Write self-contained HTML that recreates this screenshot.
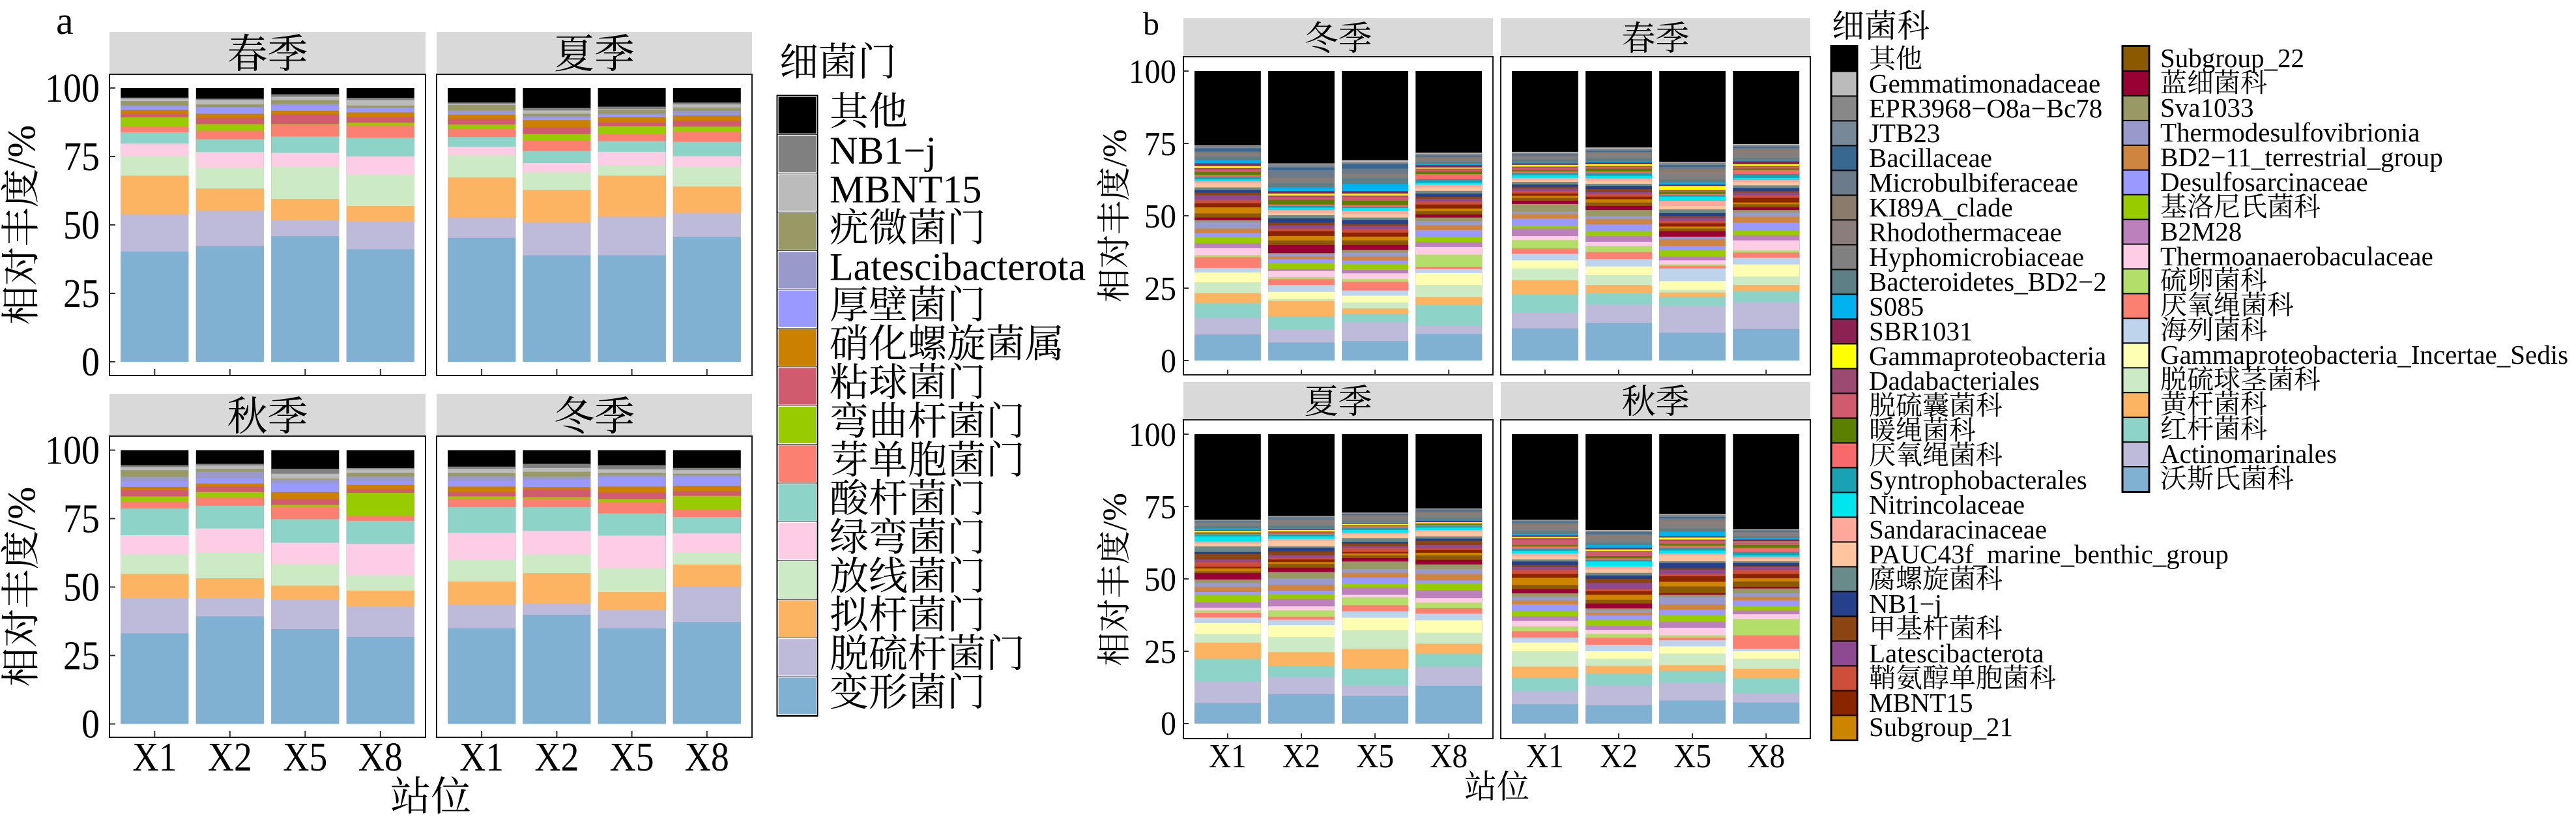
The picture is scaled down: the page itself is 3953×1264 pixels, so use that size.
<!DOCTYPE html>
<html><head><meta charset="utf-8"><style>
html,body{margin:0;padding:0;background:#fff}
svg{display:block}
text{font-family:"Liberation Serif","Noto Serif CJK SC",serif;fill:#000}
.p0{fill:#000}.p1{fill:#808080}.p2{fill:#bbbbbb}.p3{fill:#999966}.p4{fill:#9999cc}.p5{fill:#9999ff}.p6{fill:#cc8000}.p7{fill:#d05a6e}.p8{fill:#99cc00}.p9{fill:#fb8072}.p10{fill:#8dd3c7}.p11{fill:#fccde5}.p12{fill:#ccebc5}.p13{fill:#fdb462}.p14{fill:#bebada}.p15{fill:#80b1d3}
.q0{fill:#000}.q1{fill:#bbbbbb}.q2{fill:#888888}.q3{fill:#778899}.q4{fill:#386890}.q5{fill:#6c7b8b}.q6{fill:#8b7b6b}.q7{fill:#8b7d7b}.q8{fill:#808080}.q9{fill:#5f7f87}.q10{fill:#00b2ee}.q11{fill:#8b2252}.q12{fill:#ffff00}.q13{fill:#9c4a72}.q14{fill:#d05a6e}.q15{fill:#5b7f00}.q16{fill:#f8696b}.q17{fill:#1aa2b4}.q18{fill:#00e5ee}.q19{fill:#fda89a}.q20{fill:#ffc59e}.q21{fill:#698b89}.q22{fill:#27408b}.q23{fill:#8b4513}.q24{fill:#8e4a91}.q25{fill:#cd4f39}.q26{fill:#8b2500}.q27{fill:#cd8500}.q28{fill:#8b5a00}.q29{fill:#990033}.q30{fill:#999966}.q31{fill:#9999cc}.q32{fill:#cd853f}.q33{fill:#9999ff}.q34{fill:#99cc00}.q35{fill:#bc80bd}.q36{fill:#fccde5}.q37{fill:#b3de69}.q38{fill:#fb8072}.q39{fill:#bed3ec}.q40{fill:#ffffb3}.q41{fill:#ccebc5}.q42{fill:#fdb462}.q43{fill:#8dd3c7}.q44{fill:#bebada}.q45{fill:#80b1d3}
.strip{fill:#d9d9d9}
.frame{fill:none;stroke:#1a1a1a;stroke-width:2}
.tk{stroke:#333;stroke-width:2}
</style></head><body>
<svg width="3953" height="1264" viewBox="0 0 3953 1264" xmlns="http://www.w3.org/2000/svg">
<rect width="3953" height="1264" fill="#fff"/>

<!-- ================= PANEL A ================= -->
<text x="86" y="52" font-size="60">a</text>
<rect class="strip" x="168" y="49" width="485" height="65"/>
<rect class="strip" x="670" y="49" width="484" height="65"/>
<text x="410.5" y="104" font-size="62" text-anchor="middle">春季</text>
<text x="912" y="104" font-size="62" text-anchor="middle">夏季</text>
<rect class="strip" x="168" y="604" width="485" height="65"/>
<rect class="strip" x="670" y="604" width="484" height="65"/>
<text x="410.5" y="660" font-size="62" text-anchor="middle">秋季</text>
<text x="912" y="660" font-size="62" text-anchor="middle">冬季</text>

<!-- Spring -->
<g transform="translate(185.3,555) scale(104,-4.2)"><rect class="p0" width="1" height="100"/><rect class="p1" width="1" height="96.5"/><rect class="p2" width="1" height="96.1"/><rect class="p3" width="1" height="95.2"/><rect class="p4" width="1" height="93.6"/><rect class="p5" width="1" height="93.1"/><rect class="p6" width="1" height="92.0"/><rect class="p7" width="1" height="90.6"/><rect class="p8" width="1" height="89.3"/><rect class="p9" width="1" height="85.9"/><rect class="p10" width="1" height="83.8"/><rect class="p11" width="1" height="79.7"/><rect class="p12" width="1" height="75.0"/><rect class="p13" width="1" height="68.0"/><rect class="p14" width="1" height="53.9"/><rect class="p15" width="1" height="40.3"/></g>
<g transform="translate(300.8,555) scale(104,-4.2)"><rect class="p0" width="1" height="100"/><rect class="p1" width="1" height="96.1"/><rect class="p2" width="1" height="95.6"/><rect class="p3" width="1" height="94.0"/><rect class="p4" width="1" height="93.1"/><rect class="p5" width="1" height="92.7"/><rect class="p6" width="1" height="90.6"/><rect class="p7" width="1" height="89.1"/><rect class="p8" width="1" height="86.8"/><rect class="p9" width="1" height="84.4"/><rect class="p10" width="1" height="81.3"/><rect class="p11" width="1" height="76.6"/><rect class="p12" width="1" height="71.0"/><rect class="p13" width="1" height="63.3"/><rect class="p14" width="1" height="55.3"/><rect class="p15" width="1" height="42.3"/></g>
<g transform="translate(416.3,555) scale(104,-4.2)"><rect class="p0" width="1" height="100"/><rect class="p1" width="1" height="97.7"/><rect class="p2" width="1" height="96.8"/><rect class="p3" width="1" height="95.6"/><rect class="p4" width="1" height="94.2"/><rect class="p5" width="1" height="93.6"/><rect class="p6" width="1" height="91.7"/><rect class="p7" width="1" height="90.4"/><rect class="p8" width="1" height="86.8"/><rect class="p9" width="1" height="86.5"/><rect class="p10" width="1" height="82.3"/><rect class="p11" width="1" height="76.3"/><rect class="p12" width="1" height="71.4"/><rect class="p13" width="1" height="59.5"/><rect class="p14" width="1" height="51.8"/><rect class="p15" width="1" height="45.9"/></g>
<g transform="translate(531.8,555) scale(104,-4.2)"><rect class="p0" width="1" height="100"/><rect class="p1" width="1" height="96.4"/><rect class="p2" width="1" height="95.6"/><rect class="p3" width="1" height="93.6"/><rect class="p4" width="1" height="92.9"/><rect class="p5" width="1" height="92.7"/><rect class="p6" width="1" height="91.1"/><rect class="p7" width="1" height="89.4"/><rect class="p8" width="1" height="87.3"/><rect class="p9" width="1" height="86.3"/><rect class="p10" width="1" height="81.9"/><rect class="p11" width="1" height="75.0"/><rect class="p12" width="1" height="68.3"/><rect class="p13" width="1" height="56.9"/><rect class="p14" width="1" height="51.2"/><rect class="p15" width="1" height="41.1"/></g>
<!-- Summer -->
<g transform="translate(687.1,555) scale(104,-4.2)"><rect class="p0" width="1" height="100"/><rect class="p1" width="1" height="94.7"/><rect class="p2" width="1" height="94.2"/><rect class="p3" width="1" height="93.8"/><rect class="p4" width="1" height="91.8"/><rect class="p5" width="1" height="90.9"/><rect class="p6" width="1" height="90.3"/><rect class="p7" width="1" height="88.7"/><rect class="p8" width="1" height="86.7"/><rect class="p9" width="1" height="85.2"/><rect class="p10" width="1" height="82.1"/><rect class="p11" width="1" height="78.6"/><rect class="p12" width="1" height="75.4"/><rect class="p13" width="1" height="67.3"/><rect class="p14" width="1" height="52.8"/><rect class="p15" width="1" height="45.3"/></g>
<g transform="translate(802.4,555) scale(104,-4.2)"><rect class="p0" width="1" height="100"/><rect class="p1" width="1" height="92.7"/><rect class="p2" width="1" height="91.8"/><rect class="p3" width="1" height="90.6"/><rect class="p4" width="1" height="89.7"/><rect class="p5" width="1" height="89.1"/><rect class="p6" width="1" height="88.3"/><rect class="p7" width="1" height="85.6"/><rect class="p8" width="1" height="83.2"/><rect class="p9" width="1" height="80.8"/><rect class="p10" width="1" height="77.0"/><rect class="p11" width="1" height="72.6"/><rect class="p12" width="1" height="69.2"/><rect class="p13" width="1" height="62.8"/><rect class="p14" width="1" height="51.0"/><rect class="p15" width="1" height="38.9"/></g>
<g transform="translate(917.6,555) scale(104,-4.2)"><rect class="p0" width="1" height="100"/><rect class="p1" width="1" height="93.2"/><rect class="p2" width="1" height="92.3"/><rect class="p3" width="1" height="92.0"/><rect class="p4" width="1" height="90.6"/><rect class="p5" width="1" height="90.2"/><rect class="p6" width="1" height="89.3"/><rect class="p7" width="1" height="87.4"/><rect class="p8" width="1" height="86.1"/><rect class="p9" width="1" height="83.2"/><rect class="p10" width="1" height="80.6"/><rect class="p11" width="1" height="76.7"/><rect class="p12" width="1" height="71.9"/><rect class="p13" width="1" height="68.0"/><rect class="p14" width="1" height="53.0"/><rect class="p15" width="1" height="38.9"/></g>
<g transform="translate(1032.8,555) scale(104,-4.2)"><rect class="p0" width="1" height="100"/><rect class="p1" width="1" height="94.7"/><rect class="p2" width="1" height="94.0"/><rect class="p3" width="1" height="92.9"/><rect class="p4" width="1" height="91.7"/><rect class="p5" width="1" height="90.3"/><rect class="p6" width="1" height="90.0"/><rect class="p7" width="1" height="88.1"/><rect class="p8" width="1" height="85.9"/><rect class="p9" width="1" height="84.0"/><rect class="p10" width="1" height="80.4"/><rect class="p11" width="1" height="75.1"/><rect class="p12" width="1" height="71.2"/><rect class="p13" width="1" height="64.0"/><rect class="p14" width="1" height="54.4"/><rect class="p15" width="1" height="45.5"/></g>
<!-- Autumn -->
<g transform="translate(185.3,1110.5) scale(104,-4.2)"><rect class="p0" width="1" height="100"/><rect class="p1" width="1" height="94.5"/><rect class="p2" width="1" height="93.8"/><rect class="p3" width="1" height="92.7"/><rect class="p4" width="1" height="90.2"/><rect class="p5" width="1" height="88.6"/><rect class="p6" width="1" height="86.6"/><rect class="p7" width="1" height="85.4"/><rect class="p8" width="1" height="83.1"/><rect class="p9" width="1" height="81.3"/><rect class="p10" width="1" height="78.7"/><rect class="p11" width="1" height="68.9"/><rect class="p12" width="1" height="61.9"/><rect class="p13" width="1" height="54.8"/><rect class="p14" width="1" height="46.1"/><rect class="p15" width="1" height="33.1"/></g>
<g transform="translate(300.8,1110.5) scale(104,-4.2)"><rect class="p0" width="1" height="100"/><rect class="p1" width="1" height="95.0"/><rect class="p2" width="1" height="94.4"/><rect class="p3" width="1" height="93.2"/><rect class="p4" width="1" height="92.1"/><rect class="p5" width="1" height="89.6"/><rect class="p6" width="1" height="87.8"/><rect class="p7" width="1" height="86.7"/><rect class="p8" width="1" height="84.7"/><rect class="p9" width="1" height="82.8"/><rect class="p10" width="1" height="79.7"/><rect class="p11" width="1" height="71.4"/><rect class="p12" width="1" height="62.5"/><rect class="p13" width="1" height="53.2"/><rect class="p14" width="1" height="46.1"/><rect class="p15" width="1" height="39.3"/></g>
<g transform="translate(416.3,1110.5) scale(104,-4.2)"><rect class="p0" width="1" height="100"/><rect class="p1" width="1" height="93.2"/><rect class="p2" width="1" height="91.4"/><rect class="p3" width="1" height="89.6"/><rect class="p4" width="1" height="89.3"/><rect class="p5" width="1" height="88.0"/><rect class="p6" width="1" height="84.7"/><rect class="p7" width="1" height="82.0"/><rect class="p8" width="1" height="80.0"/><rect class="p9" width="1" height="79.2"/><rect class="p10" width="1" height="74.8"/><rect class="p11" width="1" height="66.2"/><rect class="p12" width="1" height="58.5"/><rect class="p13" width="1" height="50.5"/><rect class="p14" width="1" height="45.6"/><rect class="p15" width="1" height="34.6"/></g>
<g transform="translate(531.8,1110.5) scale(104,-4.2)"><rect class="p0" width="1" height="100"/><rect class="p1" width="1" height="93.5"/><rect class="p2" width="1" height="93.0"/><rect class="p3" width="1" height="91.7"/><rect class="p4" width="1" height="90.4"/><rect class="p5" width="1" height="88.6"/><rect class="p6" width="1" height="87.3"/><rect class="p7" width="1" height="85.7"/><rect class="p8" width="1" height="84.4"/><rect class="p9" width="1" height="76.1"/><rect class="p10" width="1" height="74.2"/><rect class="p11" width="1" height="65.8"/><rect class="p12" width="1" height="54.3"/><rect class="p13" width="1" height="48.7"/><rect class="p14" width="1" height="42.9"/><rect class="p15" width="1" height="31.8"/></g>
<!-- Winter -->
<g transform="translate(687.1,1110.5) scale(104,-4.2)"><rect class="p0" width="1" height="100"/><rect class="p1" width="1" height="94.0"/><rect class="p2" width="1" height="93.2"/><rect class="p3" width="1" height="91.6"/><rect class="p4" width="1" height="90.5"/><rect class="p5" width="1" height="88.8"/><rect class="p6" width="1" height="86.7"/><rect class="p7" width="1" height="84.7"/><rect class="p8" width="1" height="83.1"/><rect class="p9" width="1" height="82.3"/><rect class="p10" width="1" height="79.2"/><rect class="p11" width="1" height="69.8"/><rect class="p12" width="1" height="60.0"/><rect class="p13" width="1" height="52.0"/><rect class="p14" width="1" height="43.5"/><rect class="p15" width="1" height="34.9"/></g>
<g transform="translate(802.4,1110.5) scale(104,-4.2)"><rect class="p0" width="1" height="100"/><rect class="p1" width="1" height="95.0"/><rect class="p2" width="1" height="93.5"/><rect class="p3" width="1" height="92.1"/><rect class="p4" width="1" height="90.4"/><rect class="p5" width="1" height="89.3"/><rect class="p6" width="1" height="86.5"/><rect class="p7" width="1" height="85.7"/><rect class="p8" width="1" height="82.8"/><rect class="p9" width="1" height="82.1"/><rect class="p10" width="1" height="79.2"/><rect class="p11" width="1" height="70.5"/><rect class="p12" width="1" height="61.9"/><rect class="p13" width="1" height="55.1"/><rect class="p14" width="1" height="43.9"/><rect class="p15" width="1" height="39.9"/></g>
<g transform="translate(917.6,1110.5) scale(104,-4.2)"><rect class="p0" width="1" height="100"/><rect class="p1" width="1" height="94.5"/><rect class="p2" width="1" height="93.0"/><rect class="p3" width="1" height="91.6"/><rect class="p4" width="1" height="90.9"/><rect class="p5" width="1" height="90.1"/><rect class="p6" width="1" height="86.7"/><rect class="p7" width="1" height="84.5"/><rect class="p8" width="1" height="82.1"/><rect class="p9" width="1" height="81.0"/><rect class="p10" width="1" height="76.9"/><rect class="p11" width="1" height="68.8"/><rect class="p12" width="1" height="57.0"/><rect class="p13" width="1" height="48.2"/><rect class="p14" width="1" height="41.7"/><rect class="p15" width="1" height="34.9"/></g>
<g transform="translate(1032.8,1110.5) scale(104,-4.2)"><rect class="p0" width="1" height="100"/><rect class="p1" width="1" height="93.5"/><rect class="p2" width="1" height="92.7"/><rect class="p3" width="1" height="91.4"/><rect class="p4" width="1" height="90.9"/><rect class="p5" width="1" height="90.2"/><rect class="p6" width="1" height="87.0"/><rect class="p7" width="1" height="85.0"/><rect class="p8" width="1" height="83.3"/><rect class="p9" width="1" height="78.4"/><rect class="p10" width="1" height="75.6"/><rect class="p11" width="1" height="69.6"/><rect class="p12" width="1" height="62.7"/><rect class="p13" width="1" height="58.2"/><rect class="p14" width="1" height="50.3"/><rect class="p15" width="1" height="37.2"/></g>

<rect class="frame" x="168" y="114" width="485" height="462"/>
<rect class="frame" x="670" y="114" width="484" height="462"/>
<rect class="frame" x="168" y="669" width="485" height="462"/>
<rect class="frame" x="670" y="669" width="484" height="462"/>

<!-- Panel A ticks -->
<g class="tk">
<line x1="168" y1="135" x2="177" y2="135"/><line x1="168" y1="240" x2="177" y2="240"/><line x1="168" y1="345" x2="177" y2="345"/><line x1="168" y1="450" x2="177" y2="450"/><line x1="168" y1="555" x2="177" y2="555"/>
<line x1="168" y1="690.5" x2="177" y2="690.5"/><line x1="168" y1="795.5" x2="177" y2="795.5"/><line x1="168" y1="900.5" x2="177" y2="900.5"/><line x1="168" y1="1005.5" x2="177" y2="1005.5"/><line x1="168" y1="1110.5" x2="177" y2="1110.5"/>
<line x1="237.3" y1="566" x2="237.3" y2="576"/><line x1="352.8" y1="566" x2="352.8" y2="576"/><line x1="468.3" y1="566" x2="468.3" y2="576"/><line x1="583.8" y1="566" x2="583.8" y2="576"/>
<line x1="739.1" y1="566" x2="739.1" y2="576"/><line x1="854.4" y1="566" x2="854.4" y2="576"/><line x1="969.6" y1="566" x2="969.6" y2="576"/><line x1="1084.8" y1="566" x2="1084.8" y2="576"/>
<line x1="237.3" y1="1121" x2="237.3" y2="1131"/><line x1="352.8" y1="1121" x2="352.8" y2="1131"/><line x1="468.3" y1="1121" x2="468.3" y2="1131"/><line x1="583.8" y1="1121" x2="583.8" y2="1131"/>
<line x1="739.1" y1="1121" x2="739.1" y2="1131"/><line x1="854.4" y1="1121" x2="854.4" y2="1131"/><line x1="969.6" y1="1121" x2="969.6" y2="1131"/><line x1="1084.8" y1="1121" x2="1084.8" y2="1131"/>
</g>
<g font-size="62" text-anchor="end">
<text x="153" y="156" textLength="84" lengthAdjust="spacingAndGlyphs">100</text>
<text x="153" y="261" textLength="56" lengthAdjust="spacingAndGlyphs">75</text>
<text x="153" y="366" textLength="56" lengthAdjust="spacingAndGlyphs">50</text>
<text x="153" y="471" textLength="56" lengthAdjust="spacingAndGlyphs">25</text>
<text x="153" y="576" textLength="28" lengthAdjust="spacingAndGlyphs">0</text>
<text x="153" y="711.5" textLength="84" lengthAdjust="spacingAndGlyphs">100</text>
<text x="153" y="816.5" textLength="56" lengthAdjust="spacingAndGlyphs">75</text>
<text x="153" y="921.5" textLength="56" lengthAdjust="spacingAndGlyphs">50</text>
<text x="153" y="1026.5" textLength="56" lengthAdjust="spacingAndGlyphs">25</text>
<text x="153" y="1131.5" textLength="28" lengthAdjust="spacingAndGlyphs">0</text>
</g>
<text transform="translate(53,345) rotate(-90)" font-size="60" text-anchor="middle">相对丰度/%</text>
<text transform="translate(53,900) rotate(-90)" font-size="60" text-anchor="middle">相对丰度/%</text>
<g font-size="62" text-anchor="middle">
<text x="237.3" y="1182" textLength="68" lengthAdjust="spacingAndGlyphs">X1</text>
<text x="352.8" y="1182" textLength="68" lengthAdjust="spacingAndGlyphs">X2</text>
<text x="468.3" y="1182" textLength="68" lengthAdjust="spacingAndGlyphs">X5</text>
<text x="583.8" y="1182" textLength="68" lengthAdjust="spacingAndGlyphs">X8</text>
<text x="739.1" y="1182" textLength="68" lengthAdjust="spacingAndGlyphs">X1</text>
<text x="854.4" y="1182" textLength="68" lengthAdjust="spacingAndGlyphs">X2</text>
<text x="969.6" y="1182" textLength="68" lengthAdjust="spacingAndGlyphs">X5</text>
<text x="1084.8" y="1182" textLength="68" lengthAdjust="spacingAndGlyphs">X8</text>
<text x="661" y="1243">站位</text>
</g>

<!-- Legend A -->
<text x="1196" y="116" font-size="60">细菌门</text>
<rect x="1191.5" y="145.5" width="64" height="954" fill="#000"/>
<g stroke="#fff" stroke-width="1.2">
<rect class="p0" x="1194" y="148" width="59" height="57.4"/>
<rect class="p1" x="1194" y="207.4" width="59" height="57.4"/>
<rect class="p2" x="1194" y="266.8" width="59" height="57.4"/>
<rect class="p3" x="1194" y="326.2" width="59" height="57.4"/>
<rect class="p4" x="1194" y="385.6" width="59" height="57.4"/>
<rect class="p5" x="1194" y="445" width="59" height="57.4"/>
<rect class="p6" x="1194" y="504.4" width="59" height="57.4"/>
<rect class="p7" x="1194" y="563.8" width="59" height="57.4"/>
<rect class="p8" x="1194" y="623.2" width="59" height="57.4"/>
<rect class="p9" x="1194" y="682.6" width="59" height="57.4"/>
<rect class="p10" x="1194" y="742" width="59" height="57.4"/>
<rect class="p11" x="1194" y="801.4" width="59" height="57.4"/>
<rect class="p12" x="1194" y="860.8" width="59" height="57.4"/>
<rect class="p13" x="1194" y="920.2" width="59" height="57.4"/>
<rect class="p14" x="1194" y="979.6" width="59" height="57.4"/>
<rect class="p15" x="1194" y="1039" width="59" height="57.4"/>
</g>
<g font-size="60">
<text x="1273" y="191.7">其他</text>
<text x="1273" y="251.1">NB1−j</text>
<text x="1273" y="310.5">MBNT15</text>
<text x="1273" y="369.9">疣微菌门</text>
<text x="1273" y="429.3">Latescibacterota</text>
<text x="1273" y="488.7">厚壁菌门</text>
<text x="1273" y="548.1">硝化螺旋菌属</text>
<text x="1273" y="607.5">粘球菌门</text>
<text x="1273" y="666.9">弯曲杆菌门</text>
<text x="1273" y="726.3">芽单胞菌门</text>
<text x="1273" y="785.7">酸杆菌门</text>
<text x="1273" y="845.1">绿弯菌门</text>
<text x="1273" y="904.5">放线菌门</text>
<text x="1273" y="963.9">拟杆菌门</text>
<text x="1273" y="1023.3">脱硫杆菌门</text>
<text x="1273" y="1082.7">变形菌门</text>
</g>

<!-- ================= PANEL B ================= -->
<text x="1754" y="53" font-size="50">b</text>
<rect class="strip" x="1816" y="28" width="475" height="59"/>
<rect class="strip" x="2303" y="28" width="475" height="59"/>
<rect class="strip" x="1816" y="586" width="475" height="58"/>
<rect class="strip" x="2303" y="586" width="475" height="58"/>
<g font-size="52" text-anchor="middle">
<text x="2053.5" y="77">冬季</text>
<text x="2540.5" y="77">春季</text>
<text x="2053.5" y="634">夏季</text>
<text x="2540.5" y="634">秋季</text>
</g>

<!-- Winter -->
<g transform="translate(1833,553) scale(101.8,-4.44)"><rect class="q0" width="1" height="100"/><rect class="q1" width="1" height="74.3"/><rect class="q2" width="1" height="74.1"/><rect class="q3" width="1" height="73.8"/><rect class="q4" width="1" height="73.3"/><rect class="q5" width="1" height="72.2"/><rect class="q6" width="1" height="71.9"/><rect class="q7" width="1" height="71.6"/><rect class="q8" width="1" height="71.3"/><rect class="q9" width="1" height="70.4"/><rect class="q10" width="1" height="69.2"/><rect class="q11" width="1" height="68.1"/><rect class="q12" width="1" height="67.2"/><rect class="q13" width="1" height="66.5"/><rect class="q14" width="1" height="66.0"/><rect class="q15" width="1" height="65.1"/><rect class="q16" width="1" height="64.0"/><rect class="q17" width="1" height="63.5"/><rect class="q18" width="1" height="62.6"/><rect class="q19" width="1" height="61.9"/><rect class="q20" width="1" height="61.2"/><rect class="q21" width="1" height="59.8"/><rect class="q22" width="1" height="58.9"/><rect class="q23" width="1" height="58.0"/><rect class="q24" width="1" height="57.1"/><rect class="q25" width="1" height="55.5"/><rect class="q26" width="1" height="54.3"/><rect class="q27" width="1" height="52.9"/><rect class="q28" width="1" height="50.8"/><rect class="q29" width="1" height="49.4"/><rect class="q30" width="1" height="48.5"/><rect class="q31" width="1" height="47.9"/><rect class="q32" width="1" height="45.6"/><rect class="q33" width="1" height="44.0"/><rect class="q34" width="1" height="42.6"/><rect class="q35" width="1" height="40.5"/><rect class="q36" width="1" height="38.9"/><rect class="q37" width="1" height="36.4"/><rect class="q38" width="1" height="35.7"/><rect class="q39" width="1" height="32.0"/><rect class="q40" width="1" height="30.4"/><rect class="q41" width="1" height="27.0"/><rect class="q42" width="1" height="23.3"/><rect class="q43" width="1" height="19.9"/><rect class="q44" width="1" height="14.8"/><rect class="q45" width="1" height="9.0"/></g>
<g transform="translate(1946.1,553) scale(101.8,-4.44)"><rect class="q0" width="1" height="100"/><rect class="q1" width="1" height="68.1"/><rect class="q2" width="1" height="67.8"/><rect class="q3" width="1" height="67.4"/><rect class="q4" width="1" height="66.7"/><rect class="q5" width="1" height="65.8"/><rect class="q6" width="1" height="63.2"/><rect class="q7" width="1" height="62.8"/><rect class="q8" width="1" height="62.3"/><rect class="q9" width="1" height="61.2"/><rect class="q10" width="1" height="59.8"/><rect class="q11" width="1" height="58.5"/><rect class="q12" width="1" height="57.7"/><rect class="q13" width="1" height="57.0"/><rect class="q14" width="1" height="56.4"/><rect class="q15" width="1" height="55.5"/><rect class="q16" width="1" height="53.9"/><rect class="q17" width="1" height="53.4"/><rect class="q18" width="1" height="52.8"/><rect class="q19" width="1" height="52.0"/><rect class="q20" width="1" height="51.1"/><rect class="q21" width="1" height="50.2"/><rect class="q22" width="1" height="49.1"/><rect class="q23" width="1" height="47.6"/><rect class="q24" width="1" height="46.7"/><rect class="q25" width="1" height="45.6"/><rect class="q26" width="1" height="44.7"/><rect class="q27" width="1" height="43.0"/><rect class="q28" width="1" height="41.5"/><rect class="q29" width="1" height="39.9"/><rect class="q30" width="1" height="37.1"/><rect class="q31" width="1" height="36.9"/><rect class="q32" width="1" height="35.9"/><rect class="q33" width="1" height="35.0"/><rect class="q34" width="1" height="33.6"/><rect class="q35" width="1" height="31.6"/><rect class="q36" width="1" height="30.9"/><rect class="q37" width="1" height="28.8"/><rect class="q38" width="1" height="28.1"/><rect class="q39" width="1" height="26.1"/><rect class="q40" width="1" height="23.7"/><rect class="q41" width="1" height="21.2"/><rect class="q42" width="1" height="20.6"/><rect class="q43" width="1" height="15.3"/><rect class="q44" width="1" height="10.8"/><rect class="q45" width="1" height="6.25"/></g>
<g transform="translate(2059.2,553) scale(101.8,-4.44)"><rect class="q0" width="1" height="100"/><rect class="q1" width="1" height="69.2"/><rect class="q2" width="1" height="68.5"/><rect class="q3" width="1" height="68.2"/><rect class="q4" width="1" height="67.9"/><rect class="q5" width="1" height="66.3"/><rect class="q6" width="1" height="64.5"/><rect class="q7" width="1" height="64.3"/><rect class="q8" width="1" height="63.8"/><rect class="q9" width="1" height="63.1"/><rect class="q10" width="1" height="61.0"/><rect class="q11" width="1" height="58.5"/><rect class="q12" width="1" height="57.7"/><rect class="q13" width="1" height="57.0"/><rect class="q14" width="1" height="56.6"/><rect class="q15" width="1" height="55.2"/><rect class="q16" width="1" height="53.7"/><rect class="q17" width="1" height="53.1"/><rect class="q18" width="1" height="52.7"/><rect class="q19" width="1" height="51.7"/><rect class="q20" width="1" height="50.6"/><rect class="q21" width="1" height="49.4"/><rect class="q22" width="1" height="48.5"/><rect class="q23" width="1" height="47.2"/><rect class="q24" width="1" height="46.5"/><rect class="q25" width="1" height="45.4"/><rect class="q26" width="1" height="44.2"/><rect class="q27" width="1" height="42.8"/><rect class="q28" width="1" height="41.5"/><rect class="q29" width="1" height="39.9"/><rect class="q30" width="1" height="38.2"/><rect class="q31" width="1" height="37.3"/><rect class="q32" width="1" height="35.9"/><rect class="q33" width="1" height="34.6"/><rect class="q34" width="1" height="33.4"/><rect class="q35" width="1" height="31.3"/><rect class="q36" width="1" height="30.1"/><rect class="q37" width="1" height="28.1"/><rect class="q38" width="1" height="27.2"/><rect class="q39" width="1" height="24.2"/><rect class="q40" width="1" height="22.4"/><rect class="q41" width="1" height="20.0"/><rect class="q42" width="1" height="18.0"/><rect class="q43" width="1" height="16.2"/><rect class="q44" width="1" height="13.2"/><rect class="q45" width="1" height="6.7"/></g>
<g transform="translate(2172.3,553) scale(101.8,-4.44)"><rect class="q0" width="1" height="100"/><rect class="q1" width="1" height="71.8"/><rect class="q2" width="1" height="71.4"/><rect class="q3" width="1" height="71.1"/><rect class="q4" width="1" height="70.8"/><rect class="q5" width="1" height="70.5"/><rect class="q6" width="1" height="70.2"/><rect class="q7" width="1" height="69.9"/><rect class="q8" width="1" height="69.5"/><rect class="q9" width="1" height="68.6"/><rect class="q10" width="1" height="67.8"/><rect class="q11" width="1" height="67.5"/><rect class="q12" width="1" height="66.7"/><rect class="q13" width="1" height="66.3"/><rect class="q14" width="1" height="66.0"/><rect class="q15" width="1" height="65.3"/><rect class="q16" width="1" height="64.4"/><rect class="q17" width="1" height="62.6"/><rect class="q18" width="1" height="61.4"/><rect class="q19" width="1" height="60.8"/><rect class="q20" width="1" height="59.8"/><rect class="q21" width="1" height="58.6"/><rect class="q22" width="1" height="57.7"/><rect class="q23" width="1" height="56.6"/><rect class="q24" width="1" height="55.9"/><rect class="q25" width="1" height="55.0"/><rect class="q26" width="1" height="53.9"/><rect class="q27" width="1" height="52.5"/><rect class="q28" width="1" height="51.6"/><rect class="q29" width="1" height="50.5"/><rect class="q30" width="1" height="49.4"/><rect class="q31" width="1" height="48.2"/><rect class="q32" width="1" height="46.7"/><rect class="q33" width="1" height="45.1"/><rect class="q34" width="1" height="42.8"/><rect class="q35" width="1" height="41.0"/><rect class="q36" width="1" height="39.2"/><rect class="q37" width="1" height="36.6"/><rect class="q38" width="1" height="32.3"/><rect class="q39" width="1" height="31.6"/><rect class="q40" width="1" height="30.2"/><rect class="q41" width="1" height="26.1"/><rect class="q42" width="1" height="21.9"/><rect class="q43" width="1" height="19.2"/><rect class="q44" width="1" height="12.0"/><rect class="q45" width="1" height="9.2"/></g>
<!-- Spring -->
<g transform="translate(2320,553) scale(101.8,-4.44)"><rect class="q0" width="1" height="100"/><rect class="q1" width="1" height="72.1"/><rect class="q2" width="1" height="71.8"/><rect class="q3" width="1" height="71.5"/><rect class="q4" width="1" height="71.2"/><rect class="q5" width="1" height="70.9"/><rect class="q6" width="1" height="70.6"/><rect class="q7" width="1" height="70.4"/><rect class="q8" width="1" height="70.2"/><rect class="q9" width="1" height="69.5"/><rect class="q10" width="1" height="68.4"/><rect class="q11" width="1" height="68.1"/><rect class="q12" width="1" height="67.6"/><rect class="q13" width="1" height="67.0"/><rect class="q14" width="1" height="66.7"/><rect class="q15" width="1" height="65.8"/><rect class="q16" width="1" height="65.3"/><rect class="q17" width="1" height="64.7"/><rect class="q18" width="1" height="64.0"/><rect class="q19" width="1" height="63.1"/><rect class="q20" width="1" height="62.3"/><rect class="q21" width="1" height="61.7"/><rect class="q22" width="1" height="60.8"/><rect class="q23" width="1" height="60.0"/><rect class="q24" width="1" height="59.4"/><rect class="q25" width="1" height="58.6"/><rect class="q26" width="1" height="57.7"/><rect class="q27" width="1" height="56.9"/><rect class="q28" width="1" height="56.2"/><rect class="q29" width="1" height="55.2"/><rect class="q30" width="1" height="54.1"/><rect class="q31" width="1" height="51.4"/><rect class="q32" width="1" height="50.6"/><rect class="q33" width="1" height="49.0"/><rect class="q34" width="1" height="46.5"/><rect class="q35" width="1" height="45.6"/><rect class="q36" width="1" height="43.0"/><rect class="q37" width="1" height="41.6"/><rect class="q38" width="1" height="38.7"/><rect class="q39" width="1" height="36.9"/><rect class="q40" width="1" height="34.6"/><rect class="q41" width="1" height="31.8"/><rect class="q42" width="1" height="27.7"/><rect class="q43" width="1" height="22.8"/><rect class="q44" width="1" height="16.6"/><rect class="q45" width="1" height="11.1"/></g>
<g transform="translate(2433.1,553) scale(101.8,-4.44)"><rect class="q0" width="1" height="100"/><rect class="q1" width="1" height="73.6"/><rect class="q2" width="1" height="73.2"/><rect class="q3" width="1" height="72.9"/><rect class="q4" width="1" height="72.5"/><rect class="q5" width="1" height="72.1"/><rect class="q6" width="1" height="71.8"/><rect class="q7" width="1" height="71.5"/><rect class="q8" width="1" height="70.9"/><rect class="q9" width="1" height="69.9"/><rect class="q10" width="1" height="68.8"/><rect class="q11" width="1" height="68.4"/><rect class="q12" width="1" height="67.8"/><rect class="q13" width="1" height="67.2"/><rect class="q14" width="1" height="66.9"/><rect class="q15" width="1" height="66.3"/><rect class="q16" width="1" height="65.3"/><rect class="q17" width="1" height="64.7"/><rect class="q18" width="1" height="63.8"/><rect class="q19" width="1" height="62.9"/><rect class="q20" width="1" height="62.1"/><rect class="q21" width="1" height="61.0"/><rect class="q22" width="1" height="60.3"/><rect class="q23" width="1" height="59.2"/><rect class="q24" width="1" height="58.3"/><rect class="q25" width="1" height="57.5"/><rect class="q26" width="1" height="56.6"/><rect class="q27" width="1" height="55.7"/><rect class="q28" width="1" height="54.6"/><rect class="q29" width="1" height="53.4"/><rect class="q30" width="1" height="52.0"/><rect class="q31" width="1" height="50.0"/><rect class="q32" width="1" height="48.8"/><rect class="q33" width="1" height="47.0"/><rect class="q34" width="1" height="44.7"/><rect class="q35" width="1" height="43.0"/><rect class="q36" width="1" height="41.0"/><rect class="q37" width="1" height="39.6"/><rect class="q38" width="1" height="37.5"/><rect class="q39" width="1" height="35.0"/><rect class="q40" width="1" height="32.5"/><rect class="q41" width="1" height="29.5"/><rect class="q42" width="1" height="26.1"/><rect class="q43" width="1" height="23.3"/><rect class="q44" width="1" height="19.4"/><rect class="q45" width="1" height="13.0"/></g>
<g transform="translate(2546.2,553) scale(101.8,-4.44)"><rect class="q0" width="1" height="100"/><rect class="q1" width="1" height="68.6"/><rect class="q2" width="1" height="68.3"/><rect class="q3" width="1" height="67.9"/><rect class="q4" width="1" height="67.5"/><rect class="q5" width="1" height="66.9"/><rect class="q6" width="1" height="66.1"/><rect class="q7" width="1" height="65.3"/><rect class="q8" width="1" height="64.4"/><rect class="q9" width="1" height="62.6"/><rect class="q10" width="1" height="61.4"/><rect class="q11" width="1" height="60.8"/><rect class="q12" width="1" height="60.3"/><rect class="q13" width="1" height="58.9"/><rect class="q14" width="1" height="58.6"/><rect class="q15" width="1" height="58.3"/><rect class="q16" width="1" height="57.5"/><rect class="q17" width="1" height="57.1"/><rect class="q18" width="1" height="56.6"/><rect class="q19" width="1" height="55.2"/><rect class="q20" width="1" height="53.4"/><rect class="q21" width="1" height="52.2"/><rect class="q22" width="1" height="50.9"/><rect class="q23" width="1" height="50.0"/><rect class="q24" width="1" height="49.3"/><rect class="q25" width="1" height="48.3"/><rect class="q26" width="1" height="47.4"/><rect class="q27" width="1" height="46.3"/><rect class="q28" width="1" height="45.6"/><rect class="q29" width="1" height="44.7"/><rect class="q30" width="1" height="42.8"/><rect class="q31" width="1" height="42.6"/><rect class="q32" width="1" height="41.9"/><rect class="q33" width="1" height="39.6"/><rect class="q34" width="1" height="38.1"/><rect class="q35" width="1" height="35.9"/><rect class="q36" width="1" height="34.6"/><rect class="q37" width="1" height="33.2"/><rect class="q38" width="1" height="32.7"/><rect class="q39" width="1" height="31.8"/><rect class="q40" width="1" height="27.4"/><rect class="q41" width="1" height="24.4"/><rect class="q42" width="1" height="23.5"/><rect class="q43" width="1" height="21.9"/><rect class="q44" width="1" height="18.9"/><rect class="q45" width="1" height="9.6"/></g>
<g transform="translate(2659.3,553) scale(101.8,-4.44)"><rect class="q0" width="1" height="100"/><rect class="q1" width="1" height="74.8"/><rect class="q2" width="1" height="74.5"/><rect class="q3" width="1" height="74.2"/><rect class="q4" width="1" height="73.9"/><rect class="q5" width="1" height="73.5"/><rect class="q6" width="1" height="73.0"/><rect class="q7" width="1" height="72.2"/><rect class="q8" width="1" height="71.3"/><rect class="q9" width="1" height="69.9"/><rect class="q10" width="1" height="69.0"/><rect class="q11" width="1" height="68.8"/><rect class="q12" width="1" height="67.8"/><rect class="q13" width="1" height="67.2"/><rect class="q14" width="1" height="66.9"/><rect class="q15" width="1" height="66.3"/><rect class="q16" width="1" height="65.8"/><rect class="q17" width="1" height="64.4"/><rect class="q18" width="1" height="63.1"/><rect class="q19" width="1" height="62.4"/><rect class="q20" width="1" height="61.7"/><rect class="q21" width="1" height="60.5"/><rect class="q22" width="1" height="59.6"/><rect class="q23" width="1" height="58.6"/><rect class="q24" width="1" height="58.0"/><rect class="q25" width="1" height="57.1"/><rect class="q26" width="1" height="56.2"/><rect class="q27" width="1" height="54.6"/><rect class="q28" width="1" height="54.0"/><rect class="q29" width="1" height="52.9"/><rect class="q30" width="1" height="52.0"/><rect class="q31" width="1" height="51.1"/><rect class="q32" width="1" height="49.7"/><rect class="q33" width="1" height="47.6"/><rect class="q34" width="1" height="44.9"/><rect class="q35" width="1" height="43.3"/><rect class="q36" width="1" height="41.5"/><rect class="q37" width="1" height="38.0"/><rect class="q38" width="1" height="37.3"/><rect class="q39" width="1" height="35.5"/><rect class="q40" width="1" height="33.2"/><rect class="q41" width="1" height="29.0"/><rect class="q42" width="1" height="26.1"/><rect class="q43" width="1" height="24.0"/><rect class="q44" width="1" height="20.1"/><rect class="q45" width="1" height="10.9"/></g>
<!-- Summer -->
<g transform="translate(1833,1110) scale(101.8,-4.44)"><rect class="q0" width="1" height="100"/><rect class="q1" width="1" height="70.4"/><rect class="q2" width="1" height="70.2"/><rect class="q3" width="1" height="70.0"/><rect class="q4" width="1" height="69.8"/><rect class="q5" width="1" height="69.6"/><rect class="q6" width="1" height="69.4"/><rect class="q7" width="1" height="69.2"/><rect class="q8" width="1" height="69.0"/><rect class="q9" width="1" height="68.4"/><rect class="q10" width="1" height="67.4"/><rect class="q11" width="1" height="66.9"/><rect class="q12" width="1" height="66.6"/><rect class="q13" width="1" height="66.1"/><rect class="q14" width="1" height="65.95"/><rect class="q15" width="1" height="65.8"/><rect class="q16" width="1" height="65.6"/><rect class="q17" width="1" height="65.3"/><rect class="q18" width="1" height="64.7"/><rect class="q19" width="1" height="62.9"/><rect class="q20" width="1" height="62.2"/><rect class="q21" width="1" height="61.2"/><rect class="q22" width="1" height="59.3"/><rect class="q23" width="1" height="58.6"/><rect class="q24" width="1" height="56.7"/><rect class="q25" width="1" height="55.8"/><rect class="q26" width="1" height="54.2"/><rect class="q27" width="1" height="53.6"/><rect class="q28" width="1" height="52.6"/><rect class="q29" width="1" height="52.0"/><rect class="q30" width="1" height="49.8"/><rect class="q31" width="1" height="48.6"/><rect class="q32" width="1" height="47.2"/><rect class="q33" width="1" height="45.5"/><rect class="q34" width="1" height="44.5"/><rect class="q35" width="1" height="41.9"/><rect class="q36" width="1" height="40.0"/><rect class="q37" width="1" height="39.1"/><rect class="q38" width="1" height="38.3"/><rect class="q39" width="1" height="36.7"/><rect class="q40" width="1" height="34.7"/><rect class="q41" width="1" height="31.0"/><rect class="q42" width="1" height="28.0"/><rect class="q43" width="1" height="22.4"/><rect class="q44" width="1" height="14.5"/><rect class="q45" width="1" height="7.1"/></g>
<g transform="translate(1946.1,1110) scale(101.8,-4.44)"><rect class="q0" width="1" height="100"/><rect class="q1" width="1" height="71.7"/><rect class="q2" width="1" height="71.5"/><rect class="q3" width="1" height="71.3"/><rect class="q4" width="1" height="71.1"/><rect class="q5" width="1" height="70.9"/><rect class="q6" width="1" height="70.5"/><rect class="q7" width="1" height="70.2"/><rect class="q8" width="1" height="69.5"/><rect class="q9" width="1" height="68.4"/><rect class="q10" width="1" height="67.4"/><rect class="q11" width="1" height="67.1"/><rect class="q12" width="1" height="66.9"/><rect class="q13" width="1" height="66.4"/><rect class="q14" width="1" height="66.3"/><rect class="q15" width="1" height="66.0"/><rect class="q16" width="1" height="65.7"/><rect class="q17" width="1" height="65.3"/><rect class="q18" width="1" height="64.7"/><rect class="q19" width="1" height="63.8"/><rect class="q20" width="1" height="63.1"/><rect class="q21" width="1" height="61.2"/><rect class="q22" width="1" height="60.7"/><rect class="q23" width="1" height="59.5"/><rect class="q24" width="1" height="58.3"/><rect class="q25" width="1" height="57.4"/><rect class="q26" width="1" height="56.7"/><rect class="q27" width="1" height="55.8"/><rect class="q28" width="1" height="55.2"/><rect class="q29" width="1" height="53.9"/><rect class="q30" width="1" height="52.4"/><rect class="q31" width="1" height="50.2"/><rect class="q32" width="1" height="47.9"/><rect class="q33" width="1" height="45.9"/><rect class="q34" width="1" height="44.7"/><rect class="q35" width="1" height="43.1"/><rect class="q36" width="1" height="40.5"/><rect class="q37" width="1" height="39.1"/><rect class="q38" width="1" height="36.9"/><rect class="q39" width="1" height="35.9"/><rect class="q40" width="1" height="34.0"/><rect class="q41" width="1" height="29.9"/><rect class="q42" width="1" height="24.7"/><rect class="q43" width="1" height="20.0"/><rect class="q44" width="1" height="16.1"/><rect class="q45" width="1" height="10.2"/></g>
<g transform="translate(2059.2,1110) scale(101.8,-4.44)"><rect class="q0" width="1" height="100"/><rect class="q1" width="1" height="72.9"/><rect class="q2" width="1" height="72.7"/><rect class="q3" width="1" height="72.5"/><rect class="q4" width="1" height="72.3"/><rect class="q5" width="1" height="72.1"/><rect class="q6" width="1" height="71.8"/><rect class="q7" width="1" height="71.5"/><rect class="q8" width="1" height="71.1"/><rect class="q9" width="1" height="70.1"/><rect class="q10" width="1" height="69.6"/><rect class="q11" width="1" height="69.3"/><rect class="q12" width="1" height="69.0"/><rect class="q13" width="1" height="68.6"/><rect class="q14" width="1" height="68.5"/><rect class="q15" width="1" height="68.4"/><rect class="q16" width="1" height="68.2"/><rect class="q17" width="1" height="67.7"/><rect class="q18" width="1" height="66.9"/><rect class="q19" width="1" height="66.0"/><rect class="q20" width="1" height="65.3"/><rect class="q21" width="1" height="64.1"/><rect class="q22" width="1" height="62.8"/><rect class="q23" width="1" height="62.2"/><rect class="q24" width="1" height="61.4"/><rect class="q25" width="1" height="60.7"/><rect class="q26" width="1" height="59.3"/><rect class="q27" width="1" height="58.8"/><rect class="q28" width="1" height="58.1"/><rect class="q29" width="1" height="57.2"/><rect class="q30" width="1" height="56.0"/><rect class="q31" width="1" height="53.4"/><rect class="q32" width="1" height="52.1"/><rect class="q33" width="1" height="50.5"/><rect class="q34" width="1" height="48.3"/><rect class="q35" width="1" height="47.1"/><rect class="q36" width="1" height="44.5"/><rect class="q37" width="1" height="43.6"/><rect class="q38" width="1" height="40.9"/><rect class="q39" width="1" height="38.8"/><rect class="q40" width="1" height="36.6"/><rect class="q41" width="1" height="32.3"/><rect class="q42" width="1" height="25.9"/><rect class="q43" width="1" height="19.0"/><rect class="q44" width="1" height="13.3"/><rect class="q45" width="1" height="9.5"/></g>
<g transform="translate(2172.3,1110) scale(101.8,-4.44)"><rect class="q0" width="1" height="100"/><rect class="q1" width="1" height="74.3"/><rect class="q2" width="1" height="74.1"/><rect class="q3" width="1" height="73.9"/><rect class="q4" width="1" height="73.7"/><rect class="q5" width="1" height="73.4"/><rect class="q6" width="1" height="73.0"/><rect class="q7" width="1" height="72.6"/><rect class="q8" width="1" height="72.1"/><rect class="q9" width="1" height="71.1"/><rect class="q10" width="1" height="70.4"/><rect class="q11" width="1" height="70.1"/><rect class="q12" width="1" height="69.6"/><rect class="q13" width="1" height="69.2"/><rect class="q14" width="1" height="69.1"/><rect class="q15" width="1" height="68.9"/><rect class="q16" width="1" height="68.7"/><rect class="q17" width="1" height="68.4"/><rect class="q18" width="1" height="67.7"/><rect class="q19" width="1" height="66.9"/><rect class="q20" width="1" height="66.3"/><rect class="q21" width="1" height="64.7"/><rect class="q22" width="1" height="63.9"/><rect class="q23" width="1" height="63.1"/><rect class="q24" width="1" height="61.7"/><rect class="q25" width="1" height="60.7"/><rect class="q26" width="1" height="60.0"/><rect class="q27" width="1" height="59.0"/><rect class="q28" width="1" height="58.1"/><rect class="q29" width="1" height="56.6"/><rect class="q30" width="1" height="55.0"/><rect class="q31" width="1" height="53.4"/><rect class="q32" width="1" height="51.7"/><rect class="q33" width="1" height="49.5"/><rect class="q34" width="1" height="48.5"/><rect class="q35" width="1" height="46.1"/><rect class="q36" width="1" height="43.4"/><rect class="q37" width="1" height="41.8"/><rect class="q38" width="1" height="39.9"/><rect class="q39" width="1" height="38.0"/><rect class="q40" width="1" height="35.7"/><rect class="q41" width="1" height="31.4"/><rect class="q42" width="1" height="27.6"/><rect class="q43" width="1" height="24.2"/><rect class="q44" width="1" height="19.7"/><rect class="q45" width="1" height="13.1"/></g>
<!-- Autumn -->
<g transform="translate(2320,1110) scale(101.8,-4.44)"><rect class="q0" width="1" height="100"/><rect class="q1" width="1" height="70.4"/><rect class="q2" width="1" height="70.2"/><rect class="q3" width="1" height="70.0"/><rect class="q4" width="1" height="69.8"/><rect class="q5" width="1" height="69.5"/><rect class="q6" width="1" height="69.1"/><rect class="q7" width="1" height="68.5"/><rect class="q8" width="1" height="67.8"/><rect class="q9" width="1" height="66.6"/><rect class="q10" width="1" height="65.5"/><rect class="q11" width="1" height="65.0"/><rect class="q12" width="1" height="64.5"/><rect class="q13" width="1" height="64.1"/><rect class="q14" width="1" height="63.6"/><rect class="q15" width="1" height="61.7"/><rect class="q16" width="1" height="61.2"/><rect class="q17" width="1" height="60.4"/><rect class="q18" width="1" height="59.7"/><rect class="q19" width="1" height="58.8"/><rect class="q20" width="1" height="57.9"/><rect class="q21" width="1" height="56.7"/><rect class="q22" width="1" height="56.0"/><rect class="q23" width="1" height="54.8"/><rect class="q24" width="1" height="54.1"/><rect class="q25" width="1" height="53.1"/><rect class="q26" width="1" height="51.7"/><rect class="q27" width="1" height="50.4"/><rect class="q28" width="1" height="47.9"/><rect class="q29" width="1" height="46.4"/><rect class="q30" width="1" height="45.0"/><rect class="q31" width="1" height="43.8"/><rect class="q32" width="1" height="42.6"/><rect class="q33" width="1" height="41.2"/><rect class="q34" width="1" height="39.0"/><rect class="q35" width="1" height="37.1"/><rect class="q36" width="1" height="35.5"/><rect class="q37" width="1" height="33.6"/><rect class="q38" width="1" height="31.9"/><rect class="q39" width="1" height="29.7"/><rect class="q40" width="1" height="28.0"/><rect class="q41" width="1" height="25.0"/><rect class="q42" width="1" height="19.7"/><rect class="q43" width="1" height="15.9"/><rect class="q44" width="1" height="11.2"/><rect class="q45" width="1" height="6.7"/></g>
<g transform="translate(2433.1,1110) scale(101.8,-4.44)"><rect class="q0" width="1" height="100"/><rect class="q1" width="1" height="66.9"/><rect class="q2" width="1" height="66.7"/><rect class="q3" width="1" height="66.4"/><rect class="q4" width="1" height="66.1"/><rect class="q5" width="1" height="65.6"/><rect class="q6" width="1" height="65.2"/><rect class="q7" width="1" height="64.7"/><rect class="q8" width="1" height="64.1"/><rect class="q9" width="1" height="62.6"/><rect class="q10" width="1" height="61.7"/><rect class="q11" width="1" height="60.7"/><rect class="q12" width="1" height="60.2"/><rect class="q13" width="1" height="59.6"/><rect class="q14" width="1" height="59.3"/><rect class="q15" width="1" height="57.9"/><rect class="q16" width="1" height="57.1"/><rect class="q17" width="1" height="56.6"/><rect class="q18" width="1" height="56.0"/><rect class="q19" width="1" height="54.3"/><rect class="q20" width="1" height="53.3"/><rect class="q21" width="1" height="52.1"/><rect class="q22" width="1" height="51.2"/><rect class="q23" width="1" height="50.0"/><rect class="q24" width="1" height="48.6"/><rect class="q25" width="1" height="46.4"/><rect class="q26" width="1" height="45.7"/><rect class="q27" width="1" height="44.5"/><rect class="q28" width="1" height="42.8"/><rect class="q29" width="1" height="41.5"/><rect class="q30" width="1" height="39.8"/><rect class="q31" width="1" height="39.1"/><rect class="q32" width="1" height="38.3"/><rect class="q33" width="1" height="37.4"/><rect class="q34" width="1" height="35.9"/><rect class="q35" width="1" height="33.8"/><rect class="q36" width="1" height="32.4"/><rect class="q37" width="1" height="31.0"/><rect class="q38" width="1" height="29.7"/><rect class="q39" width="1" height="27.2"/><rect class="q40" width="1" height="25.0"/><rect class="q41" width="1" height="22.4"/><rect class="q42" width="1" height="20.0"/><rect class="q43" width="1" height="17.4"/><rect class="q44" width="1" height="13.1"/><rect class="q45" width="1" height="6.4"/></g>
<g transform="translate(2546.2,1110) scale(101.8,-4.44)"><rect class="q0" width="1" height="100"/><rect class="q1" width="1" height="72.4"/><rect class="q2" width="1" height="72.1"/><rect class="q3" width="1" height="71.8"/><rect class="q4" width="1" height="71.4"/><rect class="q5" width="1" height="71.0"/><rect class="q6" width="1" height="70.5"/><rect class="q7" width="1" height="69.8"/><rect class="q8" width="1" height="68.8"/><rect class="q9" width="1" height="67.4"/><rect class="q10" width="1" height="66.3"/><rect class="q11" width="1" height="64.7"/><rect class="q12" width="1" height="64.3"/><rect class="q13" width="1" height="63.6"/><rect class="q14" width="1" height="63.1"/><rect class="q15" width="1" height="62.1"/><rect class="q16" width="1" height="61.5"/><rect class="q17" width="1" height="60.7"/><rect class="q18" width="1" height="59.8"/><rect class="q19" width="1" height="58.8"/><rect class="q20" width="1" height="58.1"/><rect class="q21" width="1" height="56.1"/><rect class="q22" width="1" height="55.5"/><rect class="q23" width="1" height="53.6"/><rect class="q24" width="1" height="53.1"/><rect class="q25" width="1" height="51.7"/><rect class="q26" width="1" height="50.9"/><rect class="q27" width="1" height="49.0"/><rect class="q28" width="1" height="47.4"/><rect class="q29" width="1" height="45.0"/><rect class="q30" width="1" height="44.5"/><rect class="q31" width="1" height="43.9"/><rect class="q32" width="1" height="41.2"/><rect class="q33" width="1" height="39.3"/><rect class="q34" width="1" height="37.6"/><rect class="q35" width="1" height="35.2"/><rect class="q36" width="1" height="33.1"/><rect class="q37" width="1" height="30.5"/><rect class="q38" width="1" height="29.7"/><rect class="q39" width="1" height="28.8"/><rect class="q40" width="1" height="26.7"/><rect class="q41" width="1" height="24.2"/><rect class="q42" width="1" height="20.2"/><rect class="q43" width="1" height="18.3"/><rect class="q44" width="1" height="14.2"/><rect class="q45" width="1" height="8.0"/></g>
<g transform="translate(2659.3,1110) scale(101.8,-4.44)"><rect class="q0" width="1" height="100"/><rect class="q1" width="1" height="67.1"/><rect class="q2" width="1" height="66.9"/><rect class="q3" width="1" height="66.7"/><rect class="q4" width="1" height="66.5"/><rect class="q5" width="1" height="66.3"/><rect class="q6" width="1" height="66.1"/><rect class="q7" width="1" height="65.9"/><rect class="q8" width="1" height="65.5"/><rect class="q9" width="1" height="64.7"/><rect class="q10" width="1" height="64.1"/><rect class="q11" width="1" height="63.6"/><rect class="q12" width="1" height="62.9"/><rect class="q13" width="1" height="62.6"/><rect class="q14" width="1" height="62.3"/><rect class="q15" width="1" height="61.7"/><rect class="q16" width="1" height="60.7"/><rect class="q17" width="1" height="59.3"/><rect class="q18" width="1" height="58.1"/><rect class="q19" width="1" height="57.6"/><rect class="q20" width="1" height="56.9"/><rect class="q21" width="1" height="56.1"/><rect class="q22" width="1" height="55.5"/><rect class="q23" width="1" height="54.5"/><rect class="q24" width="1" height="54.1"/><rect class="q25" width="1" height="53.1"/><rect class="q26" width="1" height="51.7"/><rect class="q27" width="1" height="50.2"/><rect class="q28" width="1" height="49.1"/><rect class="q29" width="1" height="47.2"/><rect class="q30" width="1" height="46.7"/><rect class="q31" width="1" height="45.0"/><rect class="q32" width="1" height="43.8"/><rect class="q33" width="1" height="42.6"/><rect class="q34" width="1" height="40.5"/><rect class="q35" width="1" height="39.1"/><rect class="q36" width="1" height="37.8"/><rect class="q37" width="1" height="36.1"/><rect class="q38" width="1" height="30.5"/><rect class="q39" width="1" height="25.9"/><rect class="q40" width="1" height="25.0"/><rect class="q41" width="1" height="22.4"/><rect class="q42" width="1" height="19.0"/><rect class="q43" width="1" height="15.7"/><rect class="q44" width="1" height="10.4"/><rect class="q45" width="1" height="7.3"/></g>

<rect class="frame" x="1816" y="87" width="475" height="488"/>
<rect class="frame" x="2303" y="87" width="475" height="488"/>
<rect class="frame" x="1816" y="644" width="475" height="489"/>
<rect class="frame" x="2303" y="644" width="475" height="489"/>

<g class="tk">
<line x1="1816" y1="109" x2="1824" y2="109"/><line x1="1816" y1="220" x2="1824" y2="220"/><line x1="1816" y1="331" x2="1824" y2="331"/><line x1="1816" y1="442" x2="1824" y2="442"/><line x1="1816" y1="553" x2="1824" y2="553"/>
<line x1="1816" y1="666" x2="1824" y2="666"/><line x1="1816" y1="777" x2="1824" y2="777"/><line x1="1816" y1="888" x2="1824" y2="888"/><line x1="1816" y1="999" x2="1824" y2="999"/><line x1="1816" y1="1110" x2="1824" y2="1110"/>
<line x1="1883.9" y1="567" x2="1883.9" y2="575"/><line x1="1997" y1="567" x2="1997" y2="575"/><line x1="2110.1" y1="567" x2="2110.1" y2="575"/><line x1="2223.2" y1="567" x2="2223.2" y2="575"/>
<line x1="2370.9" y1="567" x2="2370.9" y2="575"/><line x1="2484" y1="567" x2="2484" y2="575"/><line x1="2597.1" y1="567" x2="2597.1" y2="575"/><line x1="2710.2" y1="567" x2="2710.2" y2="575"/>
<line x1="1883.9" y1="1125" x2="1883.9" y2="1133"/><line x1="1997" y1="1125" x2="1997" y2="1133"/><line x1="2110.1" y1="1125" x2="2110.1" y2="1133"/><line x1="2223.2" y1="1125" x2="2223.2" y2="1133"/>
<line x1="2370.9" y1="1125" x2="2370.9" y2="1133"/><line x1="2484" y1="1125" x2="2484" y2="1133"/><line x1="2597.1" y1="1125" x2="2597.1" y2="1133"/><line x1="2710.2" y1="1125" x2="2710.2" y2="1133"/>
</g>
<g font-size="52" text-anchor="end">
<text x="1805" y="127" textLength="73" lengthAdjust="spacingAndGlyphs">100</text>
<text x="1805" y="238" textLength="49" lengthAdjust="spacingAndGlyphs">75</text>
<text x="1805" y="349" textLength="49" lengthAdjust="spacingAndGlyphs">50</text>
<text x="1805" y="460" textLength="49" lengthAdjust="spacingAndGlyphs">25</text>
<text x="1805" y="571" textLength="24" lengthAdjust="spacingAndGlyphs">0</text>
<text x="1805" y="684" textLength="73" lengthAdjust="spacingAndGlyphs">100</text>
<text x="1805" y="795" textLength="49" lengthAdjust="spacingAndGlyphs">75</text>
<text x="1805" y="906" textLength="49" lengthAdjust="spacingAndGlyphs">50</text>
<text x="1805" y="1017" textLength="49" lengthAdjust="spacingAndGlyphs">25</text>
<text x="1805" y="1127" textLength="24" lengthAdjust="spacingAndGlyphs">0</text>
</g>
<text transform="translate(1728,331) rotate(-90)" font-size="52" text-anchor="middle">相对丰度/%</text>
<text transform="translate(1728,889) rotate(-90)" font-size="52" text-anchor="middle">相对丰度/%</text>
<g font-size="52" text-anchor="middle">
<text x="1883.9" y="1177" textLength="58" lengthAdjust="spacingAndGlyphs">X1</text>
<text x="1997" y="1177" textLength="58" lengthAdjust="spacingAndGlyphs">X2</text>
<text x="2110.1" y="1177" textLength="58" lengthAdjust="spacingAndGlyphs">X5</text>
<text x="2223.2" y="1177" textLength="58" lengthAdjust="spacingAndGlyphs">X8</text>
<text x="2370.9" y="1177" textLength="58" lengthAdjust="spacingAndGlyphs">X1</text>
<text x="2484" y="1177" textLength="58" lengthAdjust="spacingAndGlyphs">X2</text>
<text x="2597.1" y="1177" textLength="58" lengthAdjust="spacingAndGlyphs">X5</text>
<text x="2710.2" y="1177" textLength="58" lengthAdjust="spacingAndGlyphs">X8</text>
</g>
<text x="2297" y="1224" font-size="50" text-anchor="middle">站位</text>

<!-- Legend B -->
<text x="2811" y="57" font-size="50">细菌科</text>
<rect x="2808.5" y="69" width="43" height="1068" fill="#000"/>
<rect x="3255.5" y="69" width="44" height="687" fill="#000"/>
<g>
<rect class="q0" x="2811.5" y="72.4" width="37" height="36"/>
<rect class="q1" x="2811.5" y="110.4" width="37" height="36"/>
<rect class="q2" x="2811.5" y="148.4" width="37" height="36"/>
<rect class="q3" x="2811.5" y="186.4" width="37" height="36"/>
<rect class="q4" x="2811.5" y="224.4" width="37" height="36"/>
<rect class="q5" x="2811.5" y="262.4" width="37" height="36"/>
<rect class="q6" x="2811.5" y="300.4" width="37" height="36"/>
<rect class="q7" x="2811.5" y="338.4" width="37" height="36"/>
<rect class="q8" x="2811.5" y="376.4" width="37" height="36"/>
<rect class="q9" x="2811.5" y="414.4" width="37" height="36"/>
<rect class="q10" x="2811.5" y="452.4" width="37" height="36"/>
<rect class="q11" x="2811.5" y="490.4" width="37" height="36"/>
<rect class="q12" x="2811.5" y="528.4" width="37" height="36"/>
<rect class="q13" x="2811.5" y="566.4" width="37" height="36"/>
<rect class="q14" x="2811.5" y="604.4" width="37" height="36"/>
<rect class="q15" x="2811.5" y="642.4" width="37" height="36"/>
<rect class="q16" x="2811.5" y="680.4" width="37" height="36"/>
<rect class="q17" x="2811.5" y="718.4" width="37" height="36"/>
<rect class="q18" x="2811.5" y="756.4" width="37" height="36"/>
<rect class="q19" x="2811.5" y="794.4" width="37" height="36"/>
<rect class="q20" x="2811.5" y="832.4" width="37" height="36"/>
<rect class="q21" x="2811.5" y="870.4" width="37" height="36"/>
<rect class="q22" x="2811.5" y="908.4" width="37" height="36"/>
<rect class="q23" x="2811.5" y="946.4" width="37" height="36"/>
<rect class="q24" x="2811.5" y="984.4" width="37" height="36"/>
<rect class="q25" x="2811.5" y="1022.4" width="37" height="36"/>
<rect class="q26" x="2811.5" y="1060.4" width="37" height="36"/>
<rect class="q27" x="2811.5" y="1098.4" width="37" height="36"/>
<rect class="q28" x="3258.5" y="72" width="38" height="36"/>
<rect class="q29" x="3258.5" y="109.9" width="38" height="36"/>
<rect class="q30" x="3258.5" y="147.9" width="38" height="36"/>
<rect class="q31" x="3258.5" y="185.8" width="38" height="36"/>
<rect class="q32" x="3258.5" y="223.8" width="38" height="36"/>
<rect class="q33" x="3258.5" y="261.7" width="38" height="36"/>
<rect class="q34" x="3258.5" y="299.6" width="38" height="36"/>
<rect class="q35" x="3258.5" y="337.6" width="38" height="36"/>
<rect class="q36" x="3258.5" y="375.5" width="38" height="36"/>
<rect class="q37" x="3258.5" y="413.5" width="38" height="36"/>
<rect class="q38" x="3258.5" y="451.4" width="38" height="36"/>
<rect class="q39" x="3258.5" y="489.3" width="38" height="36"/>
<rect class="q40" x="3258.5" y="527.3" width="38" height="36"/>
<rect class="q41" x="3258.5" y="565.2" width="38" height="36"/>
<rect class="q42" x="3258.5" y="603.2" width="38" height="36"/>
<rect class="q43" x="3258.5" y="641.1" width="38" height="36"/>
<rect class="q44" x="3258.5" y="679" width="38" height="36"/>
<rect class="q45" x="3258.5" y="717" width="38" height="36"/>
</g>
<g font-size="41">
<text x="2868" y="104">其他</text>
<text x="2868" y="142">Gemmatimonadaceae</text>
<text x="2868" y="180">EPR3968−O8a−Bc78</text>
<text x="2868" y="218">JTB23</text>
<text x="2868" y="256">Bacillaceae</text>
<text x="2868" y="294">Microbulbiferaceae</text>
<text x="2868" y="332">KI89A_clade</text>
<text x="2868" y="370">Rhodothermaceae</text>
<text x="2868" y="408">Hyphomicrobiaceae</text>
<text x="2868" y="446">Bacteroidetes_BD2−2</text>
<text x="2868" y="484">S085</text>
<text x="2868" y="522">SBR1031</text>
<text x="2868" y="560">Gammaproteobacteria</text>
<text x="2868" y="598">Dadabacteriales</text>
<text x="2868" y="636">脱硫囊菌科</text>
<text x="2868" y="674">暖绳菌科</text>
<text x="2868" y="712">厌氧绳菌科</text>
<text x="2868" y="750">Syntrophobacterales</text>
<text x="2868" y="788">Nitrincolaceae</text>
<text x="2868" y="826">Sandaracinaceae</text>
<text x="2868" y="864">PAUC43f_marine_benthic_group</text>
<text x="2868" y="902">腐螺旋菌科</text>
<text x="2868" y="940">NB1−j</text>
<text x="2868" y="978">甲基杆菌科</text>
<text x="2868" y="1016">Latescibacterota</text>
<text x="2868" y="1054">鞘氨醇单胞菌科</text>
<text x="2868" y="1092">MBNT15</text>
<text x="2868" y="1129">Subgroup_21</text>
<text x="3315" y="103">Subgroup_22</text>
<text x="3315" y="141">蓝细菌科</text>
<text x="3315" y="179">Sva1033</text>
<text x="3315" y="217">Thermodesulfovibrionia</text>
<text x="3315" y="255">BD2−11_terrestrial_group</text>
<text x="3315" y="293">Desulfosarcinaceae</text>
<text x="3315" y="331">基洛尼氏菌科</text>
<text x="3315" y="369">B2M28</text>
<text x="3315" y="407">Thermoanaerobaculaceae</text>
<text x="3315" y="444">硫卵菌科</text>
<text x="3315" y="482">厌氧绳菌科</text>
<text x="3315" y="520">海列菌科</text>
<text x="3315" y="558">Gammaproteobacteria_Incertae_Sedis</text>
<text x="3315" y="596">脱硫球茎菌科</text>
<text x="3315" y="634">黄杆菌科</text>
<text x="3315" y="672">红杆菌科</text>
<text x="3315" y="710">Actinomarinales</text>
<text x="3315" y="748">沃斯氏菌科</text>
</g>
</svg>
</body></html>
